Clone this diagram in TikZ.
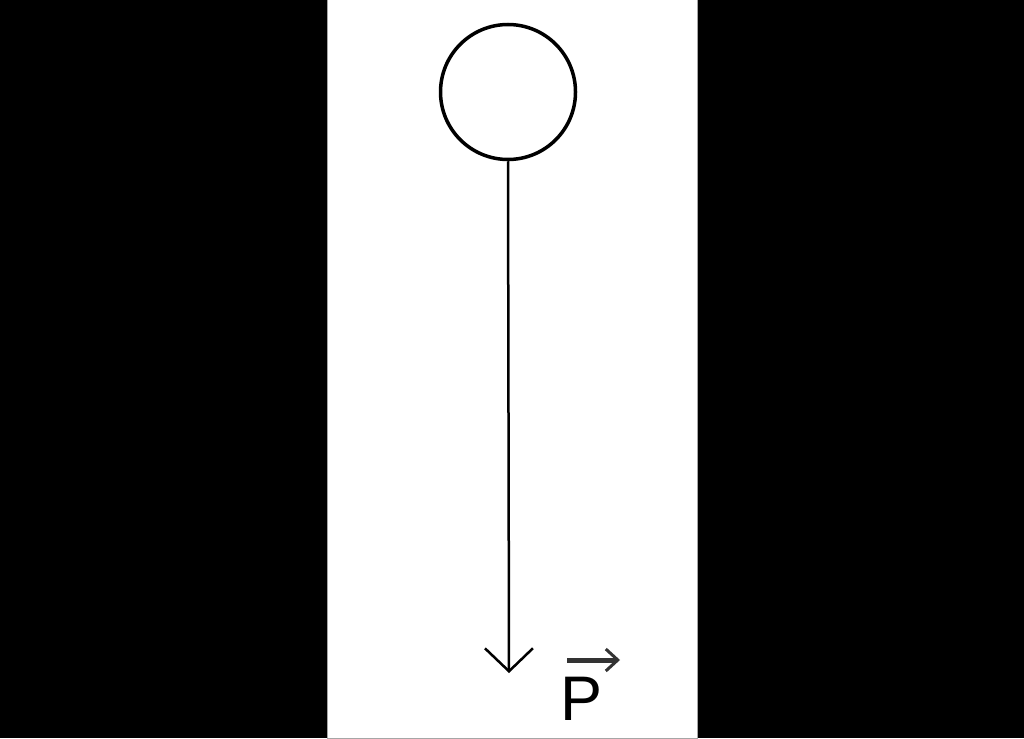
\documentclass[tikz,border=0pt]{standalone}
\usepackage{fontspec}
\setmainfont{Liberation Sans}
\usetikzlibrary{arrows.meta}

\begin{document}
\begin{tikzpicture}[x = 1pt, y = -1pt]
	            \useasboundingbox (0,0) rectangle (1024,738);
	            \fill[black] (0,0) rectangle (1024,738);
	            \fill[white, draw = gray!70, line width = 1pt] (327,0) rectangle (697,738);
	            \node [circle, draw, line width = 3.5pt, minimum size = 135pt, inner sep = 0pt] (bola) at (508,92) {};
	            \coordinate (punta) at (509,673);
	            \draw[line width = 2.5pt, -{Straight Barb[length = 23pt, width = 48pt, line width = 2.5pt]}] (bola.south) -- (punta);
	            \node [anchor = base west, inner sep = 0pt, font = \fontsize{63}{63}\selectfont] (peso) at (560,720) {P};
	            \draw[black!80, line width = 5pt, -{Straight Barb[length = 12pt, width = 22pt, line width = 3pt]}] ([shift = {(7,-60)}]peso.base west) -- ([shift = {(60,-60)}]peso.base west);
 	       \end{tikzpicture}
\end{document}
